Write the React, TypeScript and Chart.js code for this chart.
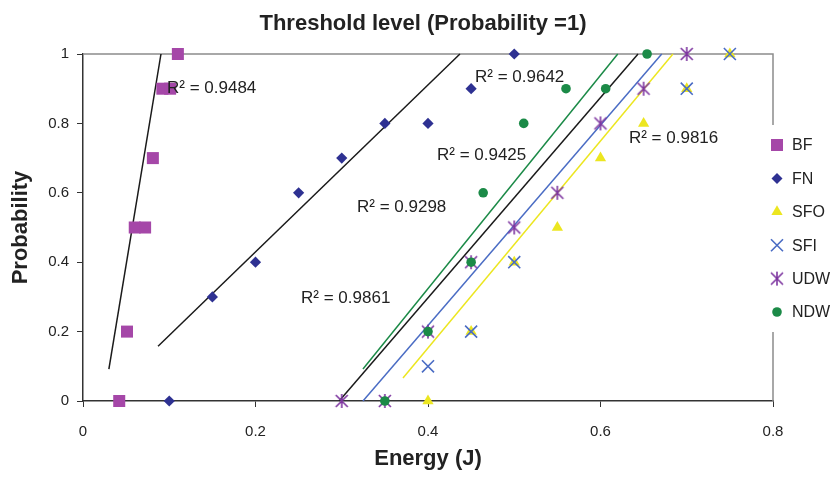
import React, { useEffect, useRef } from 'react';
import { Chart, registerables } from 'chart.js';

Chart.register(...registerables);

const FONT = '"Liberation Sans", Arial, Helvetica, sans-serif';

// ---- axis ticks ----
const xTickValues = [0, 0.2, 0.4, 0.6, 0.8];
const xTickLabels = ['0', '0.2', '0.4', '0.6', '0.8'];
const yTickValues = [0, 0.2, 0.4, 0.6, 0.8, 1];
const yTickLabels = ['0', '0.2', '0.4', '0.6', '0.8', '1'];

// ---- series (Energy J, Probability) ----
const seriesNames = ['BF', 'FN', 'SFO', 'SFI', 'UDW', 'NDW'];

const bfEnergy = [0.042, 0.051, 0.060, 0.072, 0.081, 0.092, 0.101, 0.110];
const bfProb = [0, 0.2, 0.5, 0.5, 0.7, 0.9, 0.9, 1.0];

const fnEnergy = [0.10, 0.15, 0.20, 0.25, 0.30, 0.35, 0.40, 0.45, 0.50];
const fnProb = [0, 0.3, 0.4, 0.6, 0.7, 0.8, 0.8, 0.9, 1.0];

const sfoEnergy = [0.40, 0.45, 0.50, 0.55, 0.60, 0.65, 0.70, 0.75];
const sfoProb = [0, 0.2, 0.4, 0.5, 0.7, 0.8, 0.9, 1.0];

const sfiEnergy = [0.40, 0.45, 0.50, 0.70, 0.75];
const sfiProb = [0.1, 0.2, 0.4, 0.9, 1.0];

const udwEnergy = [0.30, 0.35, 0.40, 0.45, 0.50, 0.55, 0.60, 0.65, 0.70];
const udwProb = [0, 0, 0.2, 0.4, 0.5, 0.6, 0.8, 0.9, 1.0];

const ndwEnergy = [0.35, 0.40, 0.45, 0.464, 0.511, 0.560, 0.606, 0.654];
const ndwProb = [0, 0.2, 0.4, 0.6, 0.8, 0.9, 0.9, 1.0];

// ---- linear trend lines (start / end) ----
const bfTrendEnergy = [0.030, 0.0904];
const bfTrendProb = [0.092, 1.0];
const fnTrendEnergy = [0.087, 0.437];
const fnTrendProb = [0.158, 1.0];
const udwTrendEnergy = [0.297, 0.6435];
const udwTrendProb = [0.0, 1.0];
const ndwTrendEnergy = [0.3246, 0.620];
const ndwTrendProb = [0.092, 1.0];
const sfiTrendEnergy = [0.3246, 0.671];
const sfiTrendProb = [0.0, 1.0];
const sfoTrendEnergy = [0.371, 0.684];
const sfoTrendProb = [0.066, 1.0];

// ---- R² annotations ----
const r2Values = ['0.9484', '0.9642', '0.9425', '0.9298', '0.9861', '0.9816'];
const r2AnchorEnergy = [0.0974, 0.4545, 0.4104, 0.3177, 0.2528, 0.633];
const r2AnchorProb = [0.902, 0.934, 0.709, 0.559, 0.297, 0.758];

const COLORS = {
  BF: '#A547A8',
  FN: '#2E3192',
  SFO: '#ECE620',
  SFI: '#4A6CC4',
  UDW: '#7E36A0',
  NDW: '#1B8A47',
  black: '#1a1a1a',
};

const pts = (xs: number[], ys: number[]) => xs.map((x, i) => ({ x, y: ys[i] }));

function makeAsterisk(color: string): HTMLCanvasElement {
  const c = document.createElement('canvas');
  c.width = 16;
  c.height = 16;
  const g = c.getContext('2d')!;
  g.strokeStyle = color;
  g.lineWidth = 1.6;
  g.beginPath();
  g.moveTo(2, 2);
  g.lineTo(14, 14);
  g.moveTo(14, 2);
  g.lineTo(2, 14);
  g.moveTo(8, 1);
  g.lineTo(8, 15);
  g.stroke();
  return c;
}

function drawLegendMarker(ctx: CanvasRenderingContext2D, name: string, x: number, y: number, asterisk: HTMLCanvasElement) {
  ctx.save();
  const c = (COLORS as any)[name];
  ctx.fillStyle = c;
  ctx.strokeStyle = c;
  ctx.beginPath();
  if (name === 'BF') {
    ctx.fillRect(x - 6, y - 6, 12, 12);
  } else if (name === 'FN') {
    ctx.moveTo(x - 5.5, y);
    ctx.lineTo(x, y - 5.5);
    ctx.lineTo(x + 5.5, y);
    ctx.lineTo(x, y + 5.5);
    ctx.closePath();
    ctx.fill();
  } else if (name === 'SFO') {
    const r = 6.5;
    ctx.moveTo(x, y - r);
    ctx.lineTo(x + r * Math.sin((2 * Math.PI) / 3), y - r * Math.cos((2 * Math.PI) / 3));
    ctx.lineTo(x + r * Math.sin((4 * Math.PI) / 3), y - r * Math.cos((4 * Math.PI) / 3));
    ctx.closePath();
    ctx.fill();
  } else if (name === 'SFI') {
    ctx.lineWidth = 1.6;
    ctx.moveTo(x - 6, y - 6);
    ctx.lineTo(x + 6, y + 6);
    ctx.moveTo(x + 6, y - 6);
    ctx.lineTo(x - 6, y + 6);
    ctx.stroke();
  } else if (name === 'UDW') {
    ctx.drawImage(asterisk, x - 8, y - 8);
  } else if (name === 'NDW') {
    ctx.arc(x, y, 4.8, 0, Math.PI * 2);
    ctx.fill();
  }
  ctx.restore();
}

export default function App() {
  const ref = useRef<HTMLCanvasElement | null>(null);

  useEffect(() => {
    document.body.style.margin = '0';
    const canvas = ref.current;
    if (!canvas) return;
    const asterisk = makeAsterisk(COLORS.UDW);

    const markerBase = { showLine: false, clip: false as any, pointBorderWidth: 0 };
    const trendBase = {
      showLine: true,
      pointRadius: 0,
      pointHoverRadius: 0,
      borderWidth: 1.5,
      fill: false,
      clip: false as any,
      order: 20,
    };

    const decor = {
      id: 'decor',
      beforeDatasetsDraw(chart: any) {
        const { ctx, chartArea } = chart;
        ctx.save();
        ctx.strokeStyle = '#8c8c8c';
        ctx.lineWidth = 1.5;
        ctx.beginPath();
        ctx.moveTo(chartArea.left, chartArea.top);
        ctx.lineTo(chartArea.right, chartArea.top);
        ctx.lineTo(chartArea.right, chartArea.bottom);
        ctx.stroke();
        ctx.restore();
      },
      afterDatasetsDraw(chart: any) {
        const { ctx } = chart;
        const xs = chart.scales.x;
        const ys = chart.scales.y;
        ctx.save();
        ctx.fillStyle = '#222';
        ctx.font = `17px ${FONT}`;
        ctx.textAlign = 'left';
        ctx.textBaseline = 'middle';
        r2Values.forEach((v, i) => {
          ctx.fillText(`R² = ${v}`, xs.getPixelForValue(r2AnchorEnergy[i]), ys.getPixelForValue(r2AnchorProb[i]));
        });
        ctx.restore();
      },
      afterDraw(chart: any) {
        const { ctx, chartArea } = chart;
        ctx.save();
        // title
        ctx.fillStyle = '#222';
        ctx.font = `bold 22px ${FONT}`;
        ctx.textAlign = 'center';
        ctx.textBaseline = 'middle';
        ctx.fillText('Threshold level (Probability =1)', (chartArea.left + chartArea.right) / 2 - 5, 24);
        // legend
        ctx.fillStyle = '#ffffff';
        ctx.fillRect(chartArea.right - 8, 125, 70, 207);
        ctx.font = `16px ${FONT}`;
        ctx.textAlign = 'left';
        ctx.textBaseline = 'middle';
        seriesNames.forEach((n, i) => {
          const y = 145 + i * 33.4;
          drawLegendMarker(ctx, n, chartArea.right + 4, y, asterisk);
          ctx.fillStyle = '#222';
          ctx.fillText(n, chartArea.right + 19, y + 1);
        });
        ctx.restore();
      },
    };

    const chart = new Chart(canvas, {
      type: 'scatter',
      data: {
        datasets: [
          { ...markerBase, label: 'BF', data: pts(bfEnergy, bfProb), pointStyle: 'rect', pointRadius: 8.5, pointHoverRadius: 8.5, backgroundColor: COLORS.BF, borderColor: COLORS.BF, order: 5 },
          { ...markerBase, label: 'FN', data: pts(fnEnergy, fnProb), pointStyle: 'rectRot', pointRadius: 5.6, pointHoverRadius: 5.6, backgroundColor: COLORS.FN, borderColor: COLORS.FN, order: 4 },
          { ...markerBase, label: 'SFO', data: pts(sfoEnergy, sfoProb), pointStyle: 'triangle', pointRadius: 6.5, pointHoverRadius: 6.5, backgroundColor: COLORS.SFO, borderColor: COLORS.SFO, order: 6 },
          { ...markerBase, label: 'SFI', data: pts(sfiEnergy, sfiProb), pointStyle: 'crossRot', pointRadius: 8.5, pointHoverRadius: 8.5, pointBorderWidth: 1.6, backgroundColor: COLORS.SFI, borderColor: COLORS.SFI, order: 2 },
          { ...markerBase, label: 'UDW', data: pts(udwEnergy, udwProb), pointStyle: asterisk as any, pointRadius: 8, pointHoverRadius: 8, backgroundColor: COLORS.UDW, borderColor: COLORS.UDW, order: 3 },
          { ...markerBase, label: 'NDW', data: pts(ndwEnergy, ndwProb), pointStyle: 'circle', pointRadius: 4.8, pointHoverRadius: 4.8, backgroundColor: COLORS.NDW, borderColor: COLORS.NDW, order: 1 },
          { ...trendBase, label: 'BF trend', data: pts(bfTrendEnergy, bfTrendProb), borderColor: COLORS.black },
          { ...trendBase, label: 'FN trend', data: pts(fnTrendEnergy, fnTrendProb), borderColor: COLORS.black },
          { ...trendBase, label: 'UDW trend', data: pts(udwTrendEnergy, udwTrendProb), borderColor: COLORS.black },
          { ...trendBase, label: 'NDW trend', data: pts(ndwTrendEnergy, ndwTrendProb), borderColor: COLORS.NDW },
          { ...trendBase, label: 'SFI trend', data: pts(sfiTrendEnergy, sfiTrendProb), borderColor: COLORS.SFI },
          { ...trendBase, label: 'SFO trend', data: pts(sfoTrendEnergy, sfoTrendProb), borderColor: COLORS.SFO },
        ] as any,
      },
      options: {
        responsive: false,
        animation: false,
        devicePixelRatio: 1,
        layout: { padding: { top: 54, right: 60, left: 0, bottom: 0 } },
        plugins: {
          legend: { display: false },
          tooltip: { enabled: false },
          title: { display: false },
        },
        scales: {
          x: {
            type: 'linear',
            min: 0,
            max: 0.8,
            afterBuildTicks: (s: any) => {
              s.ticks = xTickValues.map((v) => ({ value: v }));
            },
            afterFit: (s: any) => {
              s.height = 76;
            },
            ticks: {
              callback: (_v: any, i: number) => xTickLabels[i],
              padding: 16,
              color: '#222',
              font: { size: 15, family: FONT },
              maxRotation: 0,
              autoSkip: false,
            },
            grid: { drawOnChartArea: false, drawTicks: true, tickLength: 6, color: '#333', lineWidth: 1 },
            border: { display: true, color: '#333', width: 1.5 },
            title: {
              display: true,
              text: 'Energy (J)',
              color: '#222',
              font: { size: 22, weight: 'bold', family: FONT },
              padding: { top: 0, bottom: 5 },
            },
          },
          y: {
            type: 'linear',
            min: 0,
            max: 1,
            afterBuildTicks: (s: any) => {
              s.ticks = yTickValues.map((v) => ({ value: v }));
            },
            afterFit: (s: any) => {
              s.width = 83;
            },
            ticks: {
              callback: (_v: any, i: number) => yTickLabels[i],
              padding: 8,
              color: '#222',
              font: { size: 15, family: FONT },
              autoSkip: false,
            },
            grid: { drawOnChartArea: false, drawTicks: true, tickLength: 6, color: '#333', lineWidth: 1 },
            border: { display: true, color: '#333', width: 1.5 },
            title: {
              display: true,
              text: 'Probability',
              color: '#222',
              font: { size: 22, weight: 'bold', family: FONT },
              padding: { top: 8, bottom: 0 },
            },
          },
        },
      } as any,
      plugins: [decor],
    });

    return () => chart.destroy();
  }, []);

  return (
    <div style={{ width: 833, height: 477 }}>
      <canvas ref={ref} width={833} height={477} />
    </div>
  );
}
